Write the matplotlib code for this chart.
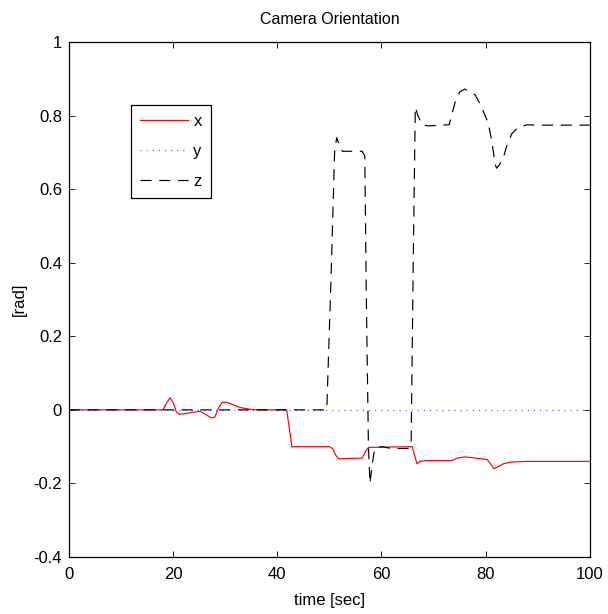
import matplotlib
matplotlib.use("Agg")
import matplotlib.pyplot as plt

plt.rcParams['font.family'] = ['Liberation Sans', 'DejaVu Sans']
plt.rcParams['axes.unicode_minus'] = False
plt.rcParams['lines.scale_dashes'] = False

# camera orientation x (roll) [rad]
t_x = [0, 18, 18.8, 19.4, 20, 20.6, 21.2, 22.5, 24, 25.2, 26.2, 27.3, 28, 28.7,
       29.4, 30.2, 31.5, 33, 35, 37, 41.8, 42.8, 50, 50.6, 51.3, 51.8, 56.3, 57,
       57.5, 65.9, 66.3, 66.8, 67.4, 68.5, 73.5, 74.5, 76, 77.5, 80.3, 81, 81.6,
       82.3, 83.5, 85, 88, 100]
x_vals = [0, 0, 0.02, 0.033, 0.02, -0.005, -0.012, -0.01, -0.006, -0.004, -0.012,
          -0.022, -0.02, 0.005, 0.02, 0.021, 0.014, 0.006, 0.001, 0, 0, -0.1, -0.1,
          -0.105, -0.125, -0.133, -0.131, -0.112, -0.102, -0.1, -0.12, -0.146, -0.14,
          -0.138, -0.138, -0.131, -0.128, -0.13, -0.135, -0.148, -0.16, -0.155,
          -0.146, -0.142, -0.14, -0.14]

# y stays at zero
t_y = [0, 100]
y_vals = [0, 0]

# z (yaw)
t_z = [0, 49.5, 50.3, 51, 51.4, 51.9, 52.5, 56.3, 56.8, 57.1, 57.5, 57.8, 58.2,
       58.7, 60, 62, 65.3, 65.7, 66.1, 66.5, 67, 67.8, 69, 73, 74.1, 75, 76, 77,
       78, 79, 80.5, 81.2, 81.8, 82.1, 82.6, 83.5, 84, 85, 86, 87.9, 90, 100]
z_vals = [0, 0, 0.35, 0.7, 0.74, 0.72, 0.703, 0.703, 0.69, 0.3, -0.1, -0.2, -0.15,
          -0.105, -0.1, -0.105, -0.105, -0.09, 0.4, 0.823, 0.8, 0.775, 0.772, 0.775,
          0.834, 0.864, 0.872, 0.865, 0.856, 0.83, 0.78, 0.73, 0.67, 0.657, 0.665,
          0.69, 0.715, 0.75, 0.765, 0.775, 0.774, 0.774]

fig = plt.figure(figsize=(6.08, 6.14), dpi=100)
ax = fig.add_axes([0.1135, 0.0928, 0.8565, 0.8388])

ax.plot(t_x, x_vals, color='red', lw=0.85, label='x')
ax.plot(t_y, y_vals, color=(0.3, 0.3, 1.0), lw=0.85, dashes=(0.8, 3.6), label='y')
ax.plot(t_z, z_vals, color='black', lw=0.85, dashes=(8.0, 5.5), label='z')

ax.set_xlim(0, 100)
ax.set_ylim(-0.4, 1)
ax.set_xticks([0, 20, 40, 60, 80, 100])
ax.set_yticks([-0.4, -0.2, 0, 0.2, 0.4, 0.6, 0.8, 1])
ax.set_yticklabels(['-0.4', '-0.2', '0', '0.2', '0.4', '0.6', '0.8', '1'])
ax.tick_params(direction='in', length=4, width=0.6, top=True, right=True,
               labelsize=12, pad=5)
ax.tick_params(axis='x', pad=7)
for s in ax.spines.values():
    s.set_linewidth(0.9)

ax.set_title('Camera Orientation', fontsize=11.5, pad=13)
ax.set_xlabel('time [sec]', fontsize=12, labelpad=8)
ax.set_ylabel('[rad]', fontsize=12, labelpad=5)

leg = ax.legend(loc='upper left', bbox_to_anchor=(0.119, 0.878), fontsize=12,
                handlelength=2.85, handletextpad=0.35, labelspacing=0.9,
                borderpad=0.55, fancybox=False, framealpha=1, borderaxespad=0)
leg.get_frame().set_edgecolor('black')
leg.get_frame().set_linewidth(0.9)

fig.savefig('out.png', dpi=100)
